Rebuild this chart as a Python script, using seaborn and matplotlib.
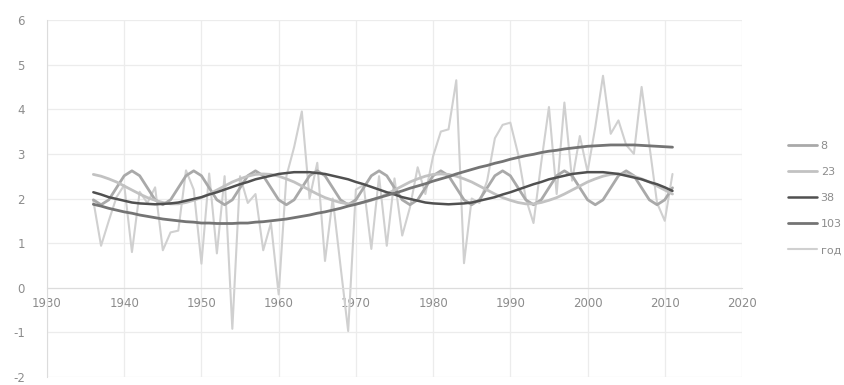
import seaborn as sns
import matplotlib.pyplot as plt
import pandas as pd

years = list(range(1936, 2012))

# annual values ("год")
god = [1.95, 0.94, 1.5, 2.03, 2.3, 0.8, 2.15, 1.9, 2.25, 0.84,
       1.24, 1.28, 2.63, 2.2, 0.54, 2.56, 0.77, 2.5, -0.92, 2.5,
       1.9, 2.1, 0.84, 1.45, -0.15, 2.5, 3.15, 3.95, 2.0, 2.8,
       0.6, 2.0, 0.5, -0.97, 2.2, 2.3, 0.87, 2.5, 0.94, 2.45,
       1.17, 1.8, 2.7, 2.1, 2.95, 3.5, 3.55, 4.65, 0.55, 2.0,
       1.9, 2.4, 3.35, 3.65, 3.7, 3.0, 2.0, 1.45, 2.8, 4.05,
       2.1, 4.15, 2.4, 3.4, 2.6, 3.6, 4.75, 3.45, 3.75, 3.2,
       3.0, 4.5, 3.2, 1.9, 1.5, 2.55]

# cycle components
c8 = [1.97, 1.86, 1.97, 2.24, 2.51, 2.62, 2.51, 2.24, 1.97, 1.86,
      1.97, 2.24, 2.51, 2.62, 2.51, 2.24, 1.97, 1.86, 1.97, 2.24,
      2.51, 2.62, 2.51, 2.24, 1.97, 1.86, 1.97, 2.24, 2.51, 2.62,
      2.51, 2.24, 1.97, 1.86, 1.97, 2.24, 2.51, 2.62, 2.51, 2.24,
      1.97, 1.86, 1.97, 2.24, 2.51, 2.62, 2.51, 2.24, 1.97, 1.86,
      1.97, 2.24, 2.51, 2.62, 2.51, 2.24, 1.97, 1.86, 1.97, 2.24,
      2.51, 2.62, 2.51, 2.24, 1.97, 1.86, 1.97, 2.24, 2.51, 2.62,
      2.51, 2.24, 1.97, 1.86, 1.97, 2.24]

c23 = [2.54, 2.50, 2.44, 2.37, 2.28, 2.19, 2.10, 2.02, 1.96, 1.91,
       1.88, 1.88, 1.91, 1.96, 2.02, 2.10, 2.19, 2.28, 2.37, 2.44,
       2.50, 2.54, 2.55, 2.54, 2.50, 2.44, 2.37, 2.28, 2.19, 2.10,
       2.02, 1.96, 1.91, 1.88, 1.88, 1.91, 1.96, 2.02, 2.10, 2.19,
       2.28, 2.37, 2.44, 2.50, 2.54, 2.55, 2.54, 2.50, 2.44, 2.37,
       2.28, 2.19, 2.10, 2.02, 1.96, 1.91, 1.88, 1.88, 1.91, 1.96,
       2.02, 2.10, 2.19, 2.28, 2.37, 2.44, 2.50, 2.54, 2.55, 2.54,
       2.50, 2.44, 2.37, 2.28, 2.19, 2.10]

c38 = [2.14, 2.09, 2.03, 1.99, 1.95, 1.91, 1.89, 1.88, 1.87, 1.88,
       1.89, 1.91, 1.95, 1.99, 2.03, 2.09, 2.14, 2.20, 2.26, 2.32,
       2.37, 2.43, 2.47, 2.51, 2.55, 2.57, 2.59, 2.59, 2.59, 2.57,
       2.55, 2.51, 2.47, 2.43, 2.37, 2.32, 2.26, 2.20, 2.14, 2.09,
       2.03, 1.99, 1.95, 1.91, 1.89, 1.88, 1.87, 1.88, 1.89, 1.91,
       1.95, 1.99, 2.03, 2.09, 2.14, 2.20, 2.26, 2.32, 2.37, 2.43,
       2.47, 2.51, 2.55, 2.57, 2.59, 2.59, 2.59, 2.57, 2.55, 2.51,
       2.47, 2.43, 2.37, 2.32, 2.25, 2.17]

c103 = [1.87, 1.83, 1.78, 1.74, 1.70, 1.67, 1.63, 1.60, 1.57, 1.54,
        1.52, 1.50, 1.48, 1.47, 1.45, 1.45, 1.44, 1.44, 1.44, 1.45,
        1.45, 1.47, 1.48, 1.50, 1.52, 1.54, 1.57, 1.60, 1.63, 1.67,
        1.70, 1.74, 1.78, 1.83, 1.87, 1.92, 1.97, 2.02, 2.07, 2.12,
        2.17, 2.23, 2.28, 2.33, 2.39, 2.44, 2.49, 2.55, 2.60, 2.65,
        2.70, 2.74, 2.79, 2.83, 2.88, 2.92, 2.96, 2.99, 3.03, 3.06,
        3.08, 3.11, 3.13, 3.15, 3.17, 3.18, 3.19, 3.20, 3.20, 3.20,
        3.20, 3.19, 3.18, 3.17, 3.16, 3.15]

labels = ['8', '23', '38', '103', 'год']
colors = ['#a9a9a9', '#c2c2c2', '#505050', '#747474', '#d0d0d0']
widths = [2.0, 2.0, 1.8, 2.0, 1.5]

df = pd.DataFrame({'year': years, '8': c8, '23': c23, '38': c38,
                   '103': c103, 'год': god})

sns.set_style('white')
plt.rcParams['axes.unicode_minus'] = False
fig = plt.figure(figsize=(8.45, 3.85), dpi=100)
ax = fig.add_axes([47 / 845, 8 / 385, 695 / 845, 357 / 385])

# annual line first so the components stay visible
for i in [4, 0, 1, 2, 3]:
    sns.lineplot(data=df, x='year', y=labels[i], ax=ax, color=colors[i],
                 lw=widths[i], label=labels[i])

ax.set_xlim(1930, 2020)
ax.set_ylim(-2, 6)
ax.set_xticks(range(1930, 2021, 10))
ax.set_yticks(range(-2, 7))
ax.set_xlabel('')
ax.set_ylabel('')
ax.grid(True, color='#ececec', lw=0.9)
ax.spines['bottom'].set_position(('data', 0))
for s in ['top', 'right']:
    ax.spines[s].set_visible(False)
ax.spines['bottom'].set_color('#dcdcdc')
ax.spines['left'].set_color('#dcdcdc')
ax.tick_params(length=0, labelsize=8.5, colors='#8c8c8c')
ax.tick_params(axis='x', pad=7)
ax.tick_params(axis='y', pad=16)

h, l = ax.get_legend_handles_labels()
lookup = dict(zip(l, h))
ax.legend([lookup[k] for k in labels], labels, loc='center left',
          bbox_to_anchor=(784 / 845, 1 - 198 / 385),
          bbox_transform=fig.transFigure, frameon=False, fontsize=8,
          labelcolor='#8c8c8c', handlelength=2.6, handletextpad=0.3,
          labelspacing=1.45, borderaxespad=0)

fig.savefig('out.png', dpi=100)
